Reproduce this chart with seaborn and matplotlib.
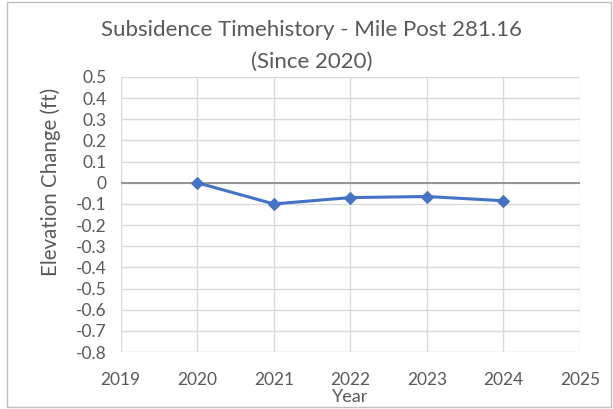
import matplotlib
matplotlib.use("Agg")
import matplotlib.pyplot as plt
import matplotlib.patches as mpatches
import numpy as np
import pandas as pd
import seaborn as sns

# data
years = [2020, 2021, 2022, 2023, 2024]
elev_change = [0.0, -0.10, -0.07, -0.065, -0.085]
x_ticks = [2019, 2020, 2021, 2022, 2023, 2024, 2025]
y_ticks = [0.5, 0.4, 0.3, 0.2, 0.1, 0.0, -0.1, -0.2, -0.3, -0.4, -0.5, -0.6, -0.7, -0.8]

df = pd.DataFrame({"Year": years, "Elevation Change (ft)": elev_change})

sns.set_theme(style="white")
plt.rcParams['font.family'] = ['Lato', 'DejaVu Sans']
txt = "#595959"

fig = plt.figure(figsize=(6.13, 4.09), dpi=100)
ax = fig.add_axes([0.197, 0.139, 0.749, 0.673])

# outer chart border
fig.patches.append(mpatches.Rectangle((0.011, 0.005), 0.985, 0.99, transform=fig.transFigure,
                                      fill=False, edgecolor="#bfbfbf", linewidth=1))

sns.lineplot(data=df, x="Year", y="Elevation Change (ft)", ax=ax, color="#4472C4",
             linewidth=2.2, marker="D", markersize=6, markeredgecolor="#4472C4", zorder=3)

ax.set_xlim(2019, 2025)
ax.set_ylim(-0.8, 0.5)
ax.set_xticks(x_ticks)
ax.set_yticks(y_ticks)
ax.set_yticklabels(["0" if v == 0 else f"{v:g}" for v in y_ticks])
ax.grid(True, color="#d9d9d9", linewidth=1)
ax.axhline(0, color="#868686", linewidth=1.2, zorder=2)
for s in ax.spines.values():
    s.set_visible(False)
ax.tick_params(axis="y", length=0, labelsize=12.5, colors=txt, pad=10)
ax.tick_params(axis="x", length=0, labelsize=12.5, colors=txt, pad=14)

ax.set_xlabel("Year", fontsize=13, color=txt)
ax.set_ylabel("Elevation Change (ft)", fontsize=14.8, color=txt)
ax.xaxis.set_label_coords(0.5, -0.135)
ax.yaxis.set_label_coords(-0.153, 0.618)
ax.yaxis.label.set_va("center")
fig.text(0.508, 0.927, "Subsidence Timehistory - Mile Post 281.16", ha="center", va="center",
         fontsize=16, color=txt)
fig.text(0.508, 0.849, "(Since 2020)", ha="center", va="center", fontsize=16, color=txt)

fig.savefig("out.png", dpi=100)
